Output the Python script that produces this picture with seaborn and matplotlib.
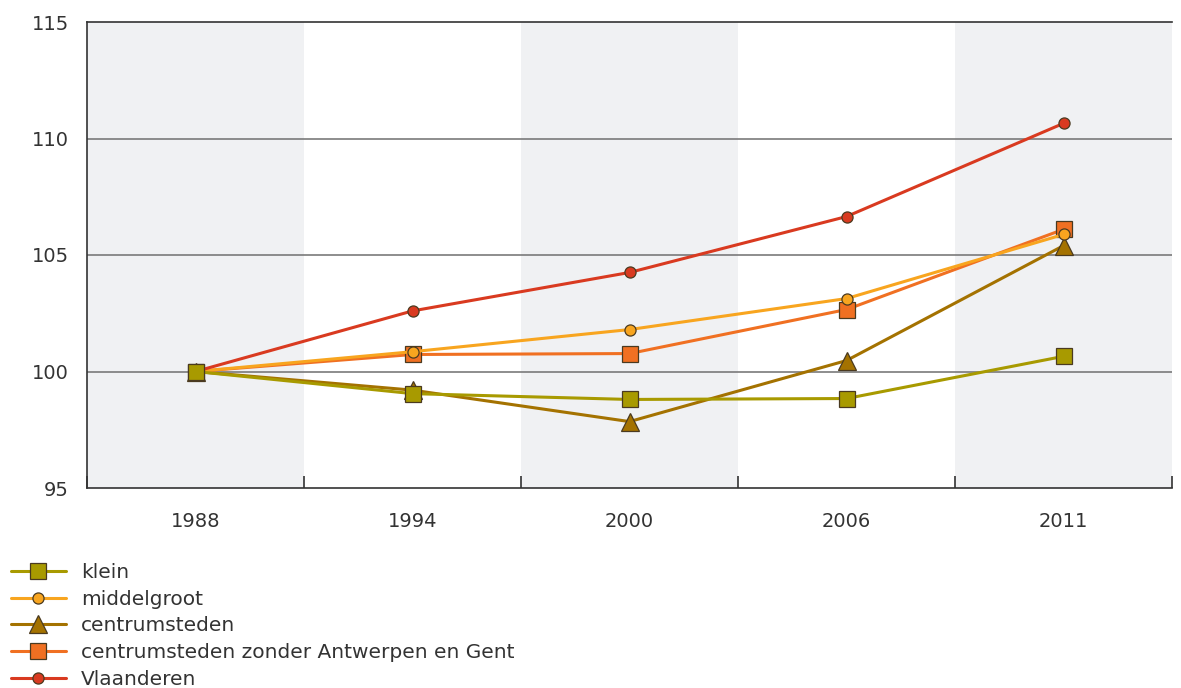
import matplotlib
matplotlib.use("Agg")
import matplotlib.pyplot as plt
import seaborn as sns
import numpy as np
import pandas as pd

years = ["1988", "1994", "2000", "2006", "2011"]
series = ["klein", "middelgroot", "centrumsteden",
          "centrumsteden zonder Antwerpen en Gent", "Vlaanderen"]
klein = [100.0, 99.05, 98.8, 98.84, 100.65]
middelgroot = [100.0, 100.85, 101.8, 103.13, 105.88]
centrumsteden = [100.0, 99.2, 97.85, 100.47, 105.4]
zonder = [100.0, 100.73, 100.77, 102.66, 106.1]
vlaanderen = [100.0, 102.6, 104.25, 106.65, 110.65]
y_ticks = [95, 100, 105, 110, 115]

values = {"klein": klein, "middelgroot": middelgroot, "centrumsteden": centrumsteden,
          "centrumsteden zonder Antwerpen en Gent": zonder, "Vlaanderen": vlaanderen}
colors = {"klein": "#a89a00", "middelgroot": "#f8a51f", "centrumsteden": "#a47200",
          "centrumsteden zonder Antwerpen en Gent": "#f07022", "Vlaanderen": "#d93a20"}
markers = {"klein": "s", "middelgroot": "o", "centrumsteden": "^",
           "centrumsteden zonder Antwerpen en Gent": "s", "Vlaanderen": "o"}
msizes = {"klein": 11.5, "middelgroot": 8, "centrumsteden": 12.5,
          "centrumsteden zonder Antwerpen en Gent": 11.5, "Vlaanderen": 8}
zorders = {"centrumsteden": 3, "centrumsteden zonder Antwerpen en Gent": 4,
           "middelgroot": 5, "Vlaanderen": 6, "klein": 7}

rows = []
for s in series:
    for i, y in enumerate(years):
        rows.append({"serie": s, "year": y, "pos": i, "value": values[s][i]})
df = pd.DataFrame(rows)

sns.set_theme(style="white")
plt.rcParams["font.family"] = ["DejaVu Sans"]
fig = plt.figure(figsize=(11.81, 6.88), dpi=100)
ax = fig.add_axes([87/1181, 1-488/688, (1172-87)/1181, (488-22)/688])

# alternating bands
for i in range(len(years)):
    if i % 2 == 0:
        ax.axvspan(i-0.5, i+0.5, color="#f0f1f3", zorder=0, lw=0)
for yv in y_ticks[1:-1]:
    ax.axhline(yv, color="#7a7a7a", lw=1.2, zorder=1)

for s in series:
    d = df[df.serie == s]
    sns.lineplot(data=d, x="pos", y="value", ax=ax, color=colors[s], lw=2.2,
                 marker=markers[s], markersize=msizes[s], markerfacecolor=colors[s],
                 markeredgecolor="#4a3a20", markeredgewidth=0.9, zorder=zorders[s],
                 label=s, legend=False)

ax.set_xlim(-0.5, len(years)-0.5)
ax.set_ylim(95, 115)
ax.set_yticks(y_ticks)
ax.set_yticklabels([str(t) for t in y_ticks])
ax.set_xticks(range(len(years)))
ax.set_xticklabels(years)
ax.set_xticks(np.arange(-0.5, len(years), 1.0), minor=True)
ax.tick_params(axis="x", which="both", bottom=True)
ax.tick_params(axis="x", which="major", length=0, pad=17, labelsize=14, labelcolor="#333333")
ax.tick_params(axis="x", which="minor", length=8.5, width=1.2, direction="in", color="#333333")
ax.tick_params(axis="y", length=0, pad=13, labelsize=14, labelcolor="#333333")
ax.set_xlabel("")
ax.set_ylabel("")
for sp in ["top", "bottom", "left"]:
    ax.spines[sp].set_visible(True)
    ax.spines[sp].set_color("#333333")
    ax.spines[sp].set_linewidth(1.2)
ax.spines["right"].set_visible(False)

handles, labels = ax.get_legend_handles_labels()
order = [labels.index(s) for s in series]
leg = fig.legend([handles[i] for i in order], [labels[i] for i in order],
                 loc="upper left", bbox_to_anchor=(0.009, 1-563/688), frameon=False,
                 fontsize=14.5, handlelength=2.75, labelspacing=0.38, borderpad=0,
                 handletextpad=0.75, borderaxespad=0)
for t in leg.get_texts():
    t.set_color("#333333")

fig.savefig("out.png", dpi=100)
